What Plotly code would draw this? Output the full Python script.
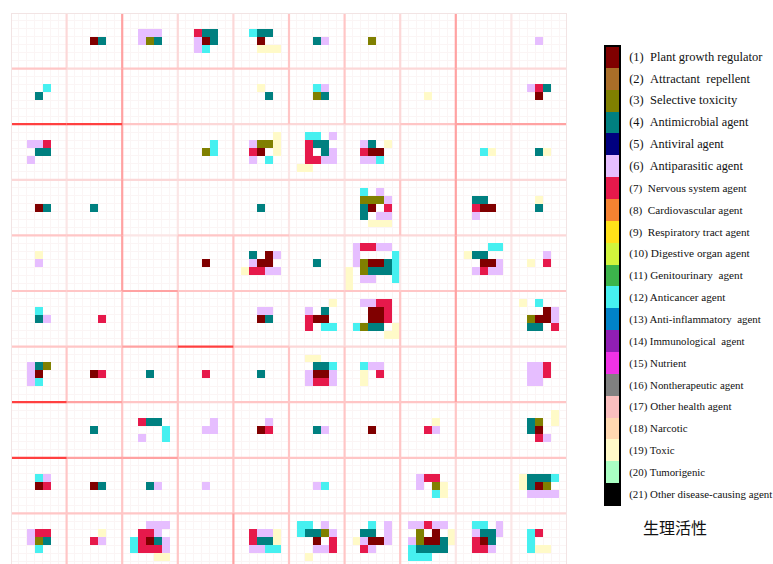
import numpy as np
import plotly.graph_objects as go

# ---- Bioactivity categories (legend bar) ----
CATEGORY_LABELS = [
    "(1)\u00a0\u00a0Plant growth regulator",
    "(2)\u00a0\u00a0Attractant\u00a0\u00a0repellent",
    "(3)\u00a0\u00a0Selective toxicity",
    "(4)\u00a0\u00a0Antimicrobial agent",
    "(5)\u00a0\u00a0Antiviral agent",
    "(6)\u00a0\u00a0Antiparasitic agent",
    "(7)\u00a0\u00a0Nervous system agent",
    "(8)\u00a0\u00a0Cardiovascular agent",
    "(9)\u00a0\u00a0Respiratory tract agent",
    "(10) Digestive organ agent",
    "(11) Genitourinary\u00a0\u00a0agent",
    "(12) Anticancer agent",
    "(13) Anti-inflammatory\u00a0\u00a0agent",
    "(14) Immunological\u00a0\u00a0agent",
    "(15) Nutrient",
    "(16) Nontherapeutic agent",
    "(17) Other health agent",
    "(18) Narcotic",
    "(19) Toxic",
    "(20) Tumorigenic",
    "(21) Other disease-causing agent",
]
# per-label text size (px)
LABEL_SIZES = [12.5, 12.5, 12.5, 12.3, 12.3, 12.3,
               11.2, 11.2, 11.2, 11.3, 11.2, 11.1,
               10.9, 10.8, 10.9, 10.9, 11, 10.9, 10.9, 10.8, 10.9]
CATEGORY_COLORS = [
    "#800000", "#aa6e28", "#808000", "#008080", "#000080", "#e6beff",
    "#e6194b", "#f58231", "#ffe119", "#d2f53c", "#3cb44b", "#46f0f0",
    "#0082c8", "#911eb4", "#f032e6", "#808080", "#fabebe", "#ffd8b1",
    "#fffac8", "#aaffc3", "#000000",
]
LEGEND_TITLE = "生理活性"

# letter -> category number used in the node patterns
SYMBOLS = {"R": 1, "O": 3, "T": 4, "L": 6, "C": 7, "A": 12, "Y": 19}

GRID_ROWS, GRID_COLS, SUB = 10, 10, 7

# Each map node is a 7x7 block; keys are (node row, node col),
# values map a sub-row index to its 7 sub-cells ('.' = empty).
NODE_PATTERNS = {
    (0, 1): {3: "...RT.."},
    (0, 2): {2: "..LLL..", 3: "..LOT.."},
    (0, 3): {2: "..CTT..", 3: "..LRT..", 4: "..LA..."},
    (0, 4): {2: "..ATT..", 3: "...R...", 4: "...YYY."},
    (0, 5): {3: "...TL.."},
    (0, 6): {3: "...O..."},
    (0, 9): {3: "...L..."},
    (1, 0): {2: "....A..", 3: "...T..."},
    (1, 4): {2: "...Y...", 3: "....T.."},
    (1, 5): {2: "...AL..", 3: "...OT.."},
    (1, 7): {3: "...Y..."},
    (1, 9): {2: "..LCT..", 3: "...R..."},
    (2, 0): {2: "..LLC..", 3: "...TT..", 4: "..L...."},
    (2, 3): {2: "....A..", 3: "...OA.."},
    (2, 4): {1: ".....Y.", 2: "..LOOY.", 3: "..CR.Y.", 4: "..L.A.."},
    (2, 5): {1: "..AA.L.", 2: "..CTT..", 3: "..C.TL.", 4: "..CCLL.", 5: ".YY...."},
    (2, 6): {2: "..LT.Y.", 3: "..CRR..", 4: "..LLA.."},
    (2, 8): {3: "...AY.."},
    (2, 9): {3: "...TY.."},
    (3, 0): {3: "...RT.."},
    (3, 1): {3: "...T..."},
    (3, 4): {3: "...T..."},
    (3, 6): {1: "..A.L..", 2: "..OOOL.", 3: "..TR.C.", 4: "..T.LL.", 5: "...YYY."},
    (3, 8): {2: "..TT...", 3: "..CRR..", 4: "..L...."},
    (3, 9): {2: "...Y...", 3: "...T..."},
    (4, 0): {2: "...Y...", 3: "...L..."},
    (4, 3): {3: "...R..."},
    (4, 4): {2: "..T.RL.", 3: "..LRR..", 4: ".YCCLL."},
    (4, 5): {3: "...T..."},
    (4, 6): {1: ".LCCLL.", 2: ".L....A", 3: ".LORRTA", 4: "Y.OTTTA",
             5: "Y.LL..A", 6: "Y......"},
    (4, 8): {1: "....AA.", 2: ".YTT...", 3: "...RRL.", 4: "..LCLL."},
    (4, 9): {2: "....L..", 3: "..Y.C.."},
    (5, 0): {2: "...A...", 3: "...TL.."},
    (5, 1): {3: "....C.."},
    (5, 4): {2: "...LL..", 3: "...RT.."},
    (5, 5): {1: ".....Y.", 2: "..L.T..", 3: "..CRR..", 4: "..C.AA."},
    (5, 6): {1: "..LLCC.", 2: "...RRC.", 3: "...RRC.", 4: ".AOTT.Y", 5: ".....YY"},
    (5, 9): {1: ".Y.A...", 2: "....RL.", 3: "..ORRL.", 4: "..TT.C."},
    (6, 0): {2: "..LTO..", 3: "..LR...", 4: "..LA..."},
    (6, 1): {3: "...RC.."},
    (6, 2): {3: "...T..."},
    (6, 3): {3: "...C..."},
    (6, 4): {3: "...T..."},
    (6, 5): {1: "..YY...", 2: "...TTA.", 3: "..LRRL.", 4: "..LCCL."},
    (6, 6): {2: "..ALL..", 3: "..Y.C..", 4: "..Y...."},
    (6, 9): {2: "..LLC..", 3: "..LLC..", 4: "..LL..."},
    (7, 1): {3: "...T..."},
    (7, 2): {2: "..CTT..", 3: ".....A.", 4: "..L..A."},
    (7, 3): {2: "....L..", 3: "...LL.."},
    (7, 4): {2: "....L..", 3: "...RC.."},
    (7, 5): {3: "...TL.."},
    (7, 6): {3: "...R..."},
    (7, 7): {2: "....Y..", 3: "...CL.."},
    (7, 9): {1: ".....Y.", 2: "..TO.Y.", 3: "..TR...", 4: "...CL.."},
    (8, 0): {2: "...AL..", 3: "...RC.."},
    (8, 1): {3: "...RT.."},
    (8, 2): {3: "...TL.."},
    (8, 3): {3: "...L..."},
    (8, 5): {3: "...LA.."},
    (8, 7): {2: "..LCC..", 3: "..L.OY.", 4: "....AY."},
    (8, 9): {2: ".YTTTA.", 3: ".YTRO..", 4: "..LLLL."},
    (9, 0): {2: "..LCC..", 3: "..LOT..", 4: "...A..."},
    (9, 1): {2: "....Y..", 3: "...CL.."},
    (9, 2): {1: "...LLL.", 2: "..CCL..", 3: ".ACRTL.", 4: ".ACCCL.", 5: "....YY."},
    (9, 4): {2: "..CLLY.", 3: "..CTTY.", 4: "..LLAA."},
    (9, 5): {1: ".AA.L..", 2: ".ATTOL.", 3: "...R.C.", 4: "...LLC.", 5: "..Y...."},
    (9, 6): {1: "...A.L.", 2: "..TT.L.", 3: ".YLRRL.", 4: "..CL..."},
    (9, 7): {1: ".LLCLL.", 2: "..O.R.Y", 3: ".LORRTY", 4: ".ATTTT.", 5: ".AAA..."},
    (9, 8): {1: "..AA.L.", 2: "..LTTL.", 3: "..CRT..", 4: "..CCL.."},
    (9, 9): {2: "..AC...", 3: "..A....", 4: "..AYY.."},
}

# Distance level (1 = close ... 5 = far) of the border between neighbouring nodes.
# V_EDGES[r][k]: border between column k and k+1 in node row r.
V_EDGES = [
    [2, 4, 2, 2, 3, 3, 2, 4, 1],
    [1, 4, 1, 1, 3, 3, 2, 4, 1],
    [1, 4, 1, 2, 1, 1, 2, 4, 1],
    [1, 4, 1, 1, 1, 1, 3, 4, 1],
    [1, 4, 2, 3, 1, 1, 1, 4, 1],
    [1, 3, 3, 3, 1, 2, 3, 4, 1],
    [3, 3, 3, 3, 3, 3, 3, 4, 1],
    [1, 3, 3, 3, 3, 3, 3, 3, 1],
    [3, 3, 3, 3, 3, 3, 3, 2, 1],
    [3, 3, 3, 4, 3, 3, 3, 1, 1],
]
# H_EDGES[k][c]: border between node row k and k+1 in column c.
H_EDGES = [
    [3, 2, 3, 3, 3, 2, 2, 2, 2, 2],
    [5, 5, 3, 2, 2, 2, 2, 3, 4, 4],
    [2, 2, 2, 2, 2, 2, 2, 2, 2, 2],
    [3, 3, 1, 3, 3, 2, 2, 2, 2, 2],
    [3, 3, 4, 3, 3, 3, 3, 3, 3, 3],
    [3, 3, 4, 5, 3, 2, 2, 2, 2, 2],
    [5, 4, 3, 2, 3, 3, 3, 3, 3, 3],
    [5, 4, 4, 3, 3, 3, 3, 3, 3, 3],
    [3, 3, 3, 3, 3, 2, 2, 2, 2, 2],
]
EDGE_COLORS = {1: "#fbe6e6", 2: "#fcd8d8", 3: "#ffc6c6", 4: "#ffa2a2", 5: "#ff4040"}

W, H = 773, 564
ncat = len(CATEGORY_COLORS)

# ---- sub-cell matrix of the map ----
n = GRID_ROWS * SUB
z = np.full((n, GRID_COLS * SUB), np.nan)
for (r, c), rows in NODE_PATTERNS.items():
    for i, line in rows.items():
        for j, ch in enumerate(line):
            if ch != ".":
                z[r * SUB + i, c * SUB + j] = SYMBOLS[ch]

colorscale = []
for k, col in enumerate(CATEGORY_COLORS):
    colorscale.append([k / ncat, col])
    colorscale.append([(k + 1) / ncat, col])

centers = np.arange(n) + 0.5

# map area in pixels
map_left, map_right, map_top = 11, 567, 13
unit = (map_right - map_left) / n
visible_rows = (H - map_top) / unit

# legend bar area in pixels
bar_left, bar_right, bar_top, bar_bottom = 605, 620, 46, 505

categories = list(range(1, ncat + 1))
tick_text = [f'<span style="font-size:{s}px">{t}</span>'
             for t, s in zip(CATEGORY_LABELS, LABEL_SIZES)]

fig = go.Figure()
fig.add_trace(go.Heatmap(
    z=z, x=centers, y=centers,
    zmin=0.5, zmax=ncat + 0.5,
    colorscale=colorscale, showscale=False,
    hoverongaps=False, xaxis="x", yaxis="y",
))
# category bar drawn as a one-column heatmap on its own axes
fig.add_trace(go.Heatmap(
    z=[[k] for k in categories], x=[0], y=categories,
    zmin=0.5, zmax=ncat + 0.5,
    colorscale=colorscale, showscale=False,
    xaxis="x2", yaxis="y2",
))

# node borders, weaker first so that strong borders sit on top
segments = []
for r in range(GRID_ROWS):
    for k in range(GRID_COLS - 1):
        x = (k + 1) * SUB
        segments.append((V_EDGES[r][k], x, r * SUB, x, (r + 1) * SUB))
for k in range(GRID_ROWS - 1):
    for c in range(GRID_COLS):
        y = (k + 1) * SUB
        segments.append((H_EDGES[k][c], c * SUB, y, (c + 1) * SUB, y))
segments.sort(key=lambda s: s[0])

shapes = []
for lvl, x0, y0, x1, y1 in segments:
    shapes.append(dict(type="line", xref="x", yref="y", x0=x0, y0=y0, x1=x1, y1=y1,
                       line=dict(color=EDGE_COLORS[lvl], width=2.2), layer="above"))
for x0, y0, x1, y1 in [(0, 0, n, 0), (0, 0, 0, n), (n, 0, n, n)]:
    shapes.append(dict(type="line", xref="x", yref="y", x0=x0, y0=y0, x1=x1, y1=y1,
                       line=dict(color="#f2e4e4", width=2), layer="above"))
# frame around the category bar
shapes.append(dict(type="rect", xref="x2 domain", yref="y2 domain",
                   x0=0, x1=1, y0=0, y1=1, line=dict(color="#000", width=2),
                   layer="above"))

fig.update_layout(
    width=W, height=H,
    margin=dict(l=0, r=0, t=0, b=0),
    paper_bgcolor="white", plot_bgcolor="white",
    shapes=shapes,
    xaxis=dict(domain=[map_left / W, map_right / W], range=[0, n],
               showticklabels=False, ticks="", zeroline=False,
               showgrid=True, gridcolor="#fbf5f5", gridwidth=1, tick0=0, dtick=1),
    yaxis=dict(domain=[0, 1 - map_top / H], range=[visible_rows, 0],
               showticklabels=False, ticks="", zeroline=False,
               showgrid=True, gridcolor="#fbf5f5", gridwidth=1, tick0=0, dtick=1),
    xaxis2=dict(domain=[bar_left / W, bar_right / W], range=[-0.5, 0.5],
                showticklabels=False, ticks="", showgrid=False, zeroline=False,
                fixedrange=True),
    yaxis2=dict(domain=[1 - bar_bottom / H, 1 - bar_top / H], anchor="x2",
                range=[ncat + 0.5, 0.5], side="right",
                tickvals=categories, ticktext=tick_text,
                ticks="outside", ticklen=6, tickcolor="rgba(0,0,0,0)",
                tickfont=dict(family="Liberation Serif", size=11, color="#111"),
                showgrid=False, zeroline=False, showline=False, fixedrange=True),
    annotations=[
        dict(text=LEGEND_TITLE, xref="paper", yref="paper",
             x=675 / W, y=1 - 527 / H,
             xanchor="center", yanchor="middle", showarrow=False,
             font=dict(family="Noto Sans CJK SC", size=16, color="#111")),
    ],
)

fig.write_html("out.html")
